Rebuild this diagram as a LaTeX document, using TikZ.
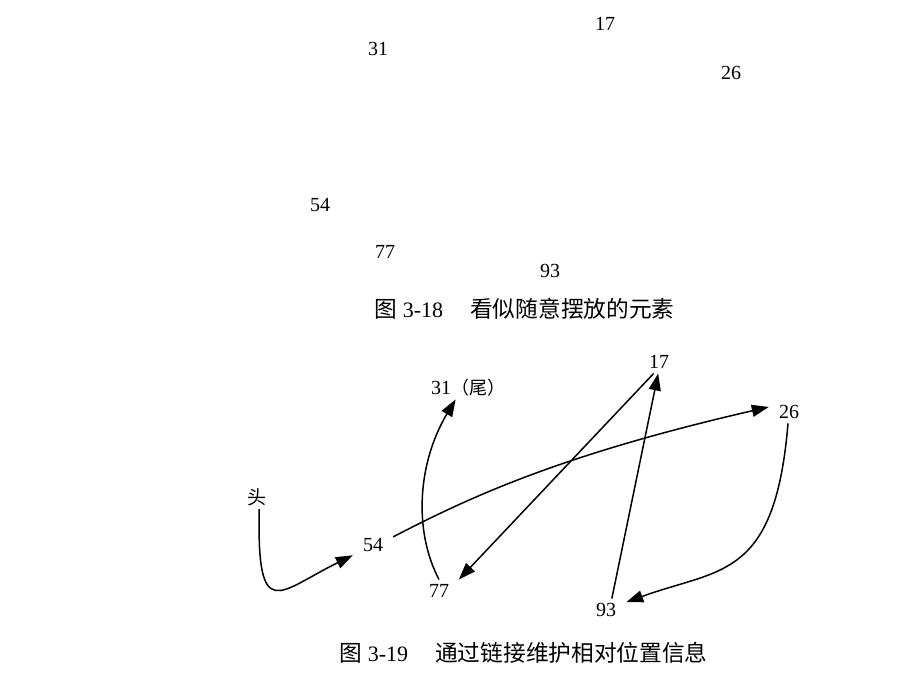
\documentclass[tikz,border=0pt]{standalone}
\usepackage{fontspec}
\setmainfont{Liberation Serif}
\newfontfamily\cjk{Noto Sans CJK SC}
\usetikzlibrary{arrows.meta}
\newcommand{\capcjk}{\cjk\fontsize{22.7}{22.7}\selectfont}
\begin{document}
\begin{tikzpicture}[x=1pt,y=-1pt,
  num/.style={font=\fontsize{20}{20}\selectfont, inner xsep=10pt, inner ysep=4.5pt, text height=13.5pt, text depth=0pt},
  hz/.style={font=\cjk\fontsize{19}{19}\selectfont, inner xsep=11pt, inner ysep=5pt, text height=14pt, text depth=0pt},
  captext/.style={anchor=west, inner sep=0pt, font=\fontsize{22}{22}\selectfont, text height=17pt, text depth=3pt},
  link/.style={line width=1.5pt, -{Triangle[length=17pt,width=12pt]}}]
\useasboundingbox (0,0) rectangle (924,680);
% Figure 3-18
\node[num] (t17) at (605,24) {17};
\node[num] (t31) at (378,49) {31};
\node[num] (t26) at (731,73) {26};
\node[num] (t54) at (320,205) {54};
\node[num] (t77) at (385,252) {77};
\node[num] (t93) at (550,271) {93};
\node[captext] (c1) at (374,310) {{\capcjk 图}\hspace{6pt}3-18\hspace{27pt}{\capcjk 看似随意摆放的元素}};
% Figure 3-19
\node[hz] (tou) at (257,497) {头};
\node[num] (b31) at (441,388) {31};
\node[anchor=west, inner sep=0pt, font=\cjk\fontsize{18}{18}\selectfont, text height=13pt, text depth=0pt] (b31t) at (451,388) {（尾）};
\node[num] (b17) at (659,362) {17};
\node[num] (b26) at (789,412) {26};
\node[num] (b54) at (373,545) {54};
\node[num] (b77) at (439,591) {77};
\node[num] (b93) at (606,610) {93};
\node[captext] (c2) at (339,654) {{\capcjk 图}\hspace{6pt}3-19\hspace{27pt}{\capcjk 通过链接维护相对位置信息}};
% links
\draw[link] (tou.280) .. controls (257,625) and (278,592) .. (b54.207);
\draw[link] (b54.22) .. controls (470,497) and (560,455) .. (b26.166);
\draw[link] (b26.265) .. controls (775,580) and (720,568) .. (b93.21);
\draw[link] (b93.63) -- (b17.266);
\draw[link] (b17.245) -- (b77.30);
\draw[link] (b77.90) .. controls (413,530) and (418,462) .. (b31.322);
\end{tikzpicture}
\end{document}
